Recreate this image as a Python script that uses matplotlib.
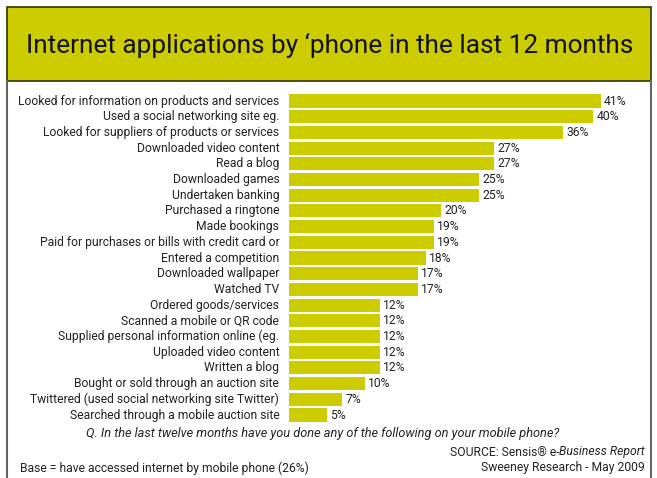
import matplotlib
matplotlib.use("Agg")
import matplotlib.pyplot as plt
from matplotlib.patches import Rectangle
from matplotlib.lines import Line2D

# survey answers, top to bottom
labels = [
    "Looked for information on products and services",
    "Used a social networking site eg.",
    "Looked for suppliers of products or services",
    "Downloaded video content",
    "Read a blog",
    "Downloaded games",
    "Undertaken banking",
    "Purchased a ringtone",
    "Made bookings",
    "Paid for purchases or bills with credit card or",
    "Entered a competition",
    "Downloaded wallpaper",
    "Watched TV",
    "Ordered goods/services",
    "Scanned a mobile or QR code",
    "Supplied personal information online (eg.",
    "Uploaded video content",
    "Written a blog",
    "Bought or sold through an auction site",
    "Twittered (used social networking site Twitter)",
    "Searched through a mobile auction site",
]
values = [41, 40, 36, 27, 27, 25, 25, 20, 19, 19, 18, 17, 17, 12, 12, 12, 12, 12, 10, 7, 5]

title = "Internet applications by \u2018phone in the last 12 months"
question = "Q. In the last twelve months have you done any of the following on your mobile phone?"
base_note = "Base = have accessed internet by mobile phone (26%)"

W, H = 657, 478
YELLOW = "#cccc00"
TEXT = "#222222"
FONT = ["Roboto", "DejaVu Sans"]

fig = plt.figure(figsize=(W / 100, H / 100), dpi=100)
fig.patch.set_facecolor("white")

def fx(px):
    return px / W

def fy(py):
    return 1 - py / H

# title band and frame
fig.patches.append(Rectangle((fx(7), fy(81)), fx(644), 74 / H, transform=fig.transFigure,
                             facecolor=YELLOW, edgecolor="#333300", linewidth=1.2))
fig.lines.append(Line2D([fx(7), fx(7)], [fy(81), 0], transform=fig.transFigure, color="#666666", lw=1.5))
fig.lines.append(Line2D([fx(651), fx(651)], [fy(81), 0], transform=fig.transFigure, color="#666666", lw=1.5))
fig.text(fx(330), fy(45), title, ha="center", va="center", fontsize=18.9,
         family=FONT, color="#111111")

# bar chart area
n = len(values)
row_px = (415 - 101) / (n - 1)
top = 101 - row_px / 2
bottom = 415 + row_px / 2
px_per_pct = (601 - 289) / 41
ax_w = 351
ax = fig.add_axes([fx(289), fy(bottom), fx(ax_w), (bottom - top) / H])
ax.barh(range(n), values, height=0.84, color=YELLOW, edgecolor="none")
ax.set_xlim(0, ax_w / px_per_pct)
ax.set_ylim(n - 0.5, -0.5)
ax.axis("off")

fs = 8.7
for i, (lab, v) in enumerate(zip(labels, values)):
    ax.annotate(f"{v}%", (v, i), xytext=(2.2, 0), textcoords="offset points",
                va="center", ha="left", fontsize=fs, family=FONT, color=TEXT)
    ax.annotate(lab, (0, i), xytext=(-7, 0), textcoords="offset points",
                va="center", ha="right", fontsize=fs, family=FONT, color=TEXT)

# footnotes
fig.text(fx(323), fy(434), question, ha="center", va="center", fontsize=9.2,
         family=FONT, style="italic", color=TEXT)
fig.text(fx(20), fy(468), base_note, ha="left", va="center", fontsize=fs,
         family=FONT, color=TEXT)
fig.text(fx(645), fy(468), "Sweeney Research - May 2009", ha="right", va="center",
         fontsize=fs, family=FONT, color=TEXT)
src = fig.text(fx(645), fy(452), "Business Report", ha="right", va="center",
               fontsize=fs, family=FONT, style="italic", color=TEXT)
fig.canvas.draw()
bb = src.get_window_extent()
fig.text(bb.x0 / W, fy(452), "SOURCE: Sensis\u00ae e-", ha="right", va="center",
         fontsize=fs, family=FONT, color=TEXT)

fig.savefig("out.png", dpi=100)
